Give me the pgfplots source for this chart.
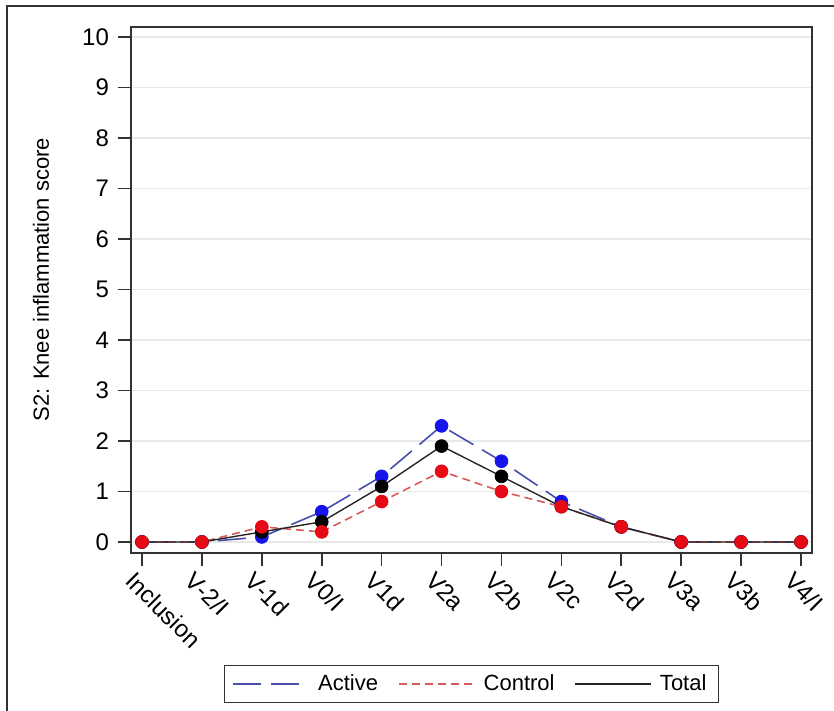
\documentclass[border=0pt]{standalone}
\usepackage{fontspec}
\setmainfont{Liberation Sans}
\usepackage{pgfplots}
\pgfplotsset{compat=1.18}
\definecolor{actline}{RGB}{70,80,170}
\definecolor{actmark}{RGB}{20,20,235}
\definecolor{conline}{RGB}{215,90,90}
\definecolor{conmark}{RGB}{230,10,20}
\definecolor{gridc}{RGB}{232,232,232}
\definecolor{axc}{RGB}{50,50,50}
\begin{document}
\begin{tikzpicture}
\useasboundingbox (-65.5pt,-79pt) rectangle (351.5pt,276.5pt);
\draw[line width=0.8pt, axc] (-62pt,-80pt) -- (-62pt,273.5pt) -- (352pt,273.5pt);
\begin{axis}[
  at={(0,0)}, anchor=south west,
  scale only axis, width=340.5pt, height=263pt,
  xmin=-0.184, xmax=11.184, ymin=-0.218, ymax=10.2,
  xtick={0,...,11},
  xticklabels={Inclusion,V-2/I,V-1d,V0/I,V1d,V2a,V2b,V2c,V2d,V3a,V3b,V4/I},
  ytick={0,...,10},
  xtick pos=bottom, ytick pos=left,
  tick align=outside, major tick length=6.5pt,
  ymajorgrids, grid style={gridc, line width=0.6pt},
  axis line style={line width=0.8pt, axc},
  tick style={line width=0.8pt, axc},
  /pgf/number format/assume math mode=true,
  yticklabel style={font=\fontsize{12}{14}\selectfont, xshift=-1pt},
  xticklabel style={font=\fontsize{12}{14}\selectfont, rotate=-45, anchor=north west, xshift=-4pt},
  ylabel={S2: Knee inflammation score},
  ylabel style={at={(axis description cs:-0.132,0.52)}, anchor=center, font=\fontsize{11}{13}\selectfont},
  legend style={at={(0.5,-0.249)}, anchor=center, legend columns=3, draw=axc, line width=0.8pt,
    font=\fontsize{11}{13}\selectfont, inner xsep=4pt, inner ysep=2.5pt,
    /tikz/every even column/.append style={column sep=8pt},
    /tikz/every odd column/.append style={column sep=2pt}},
  legend image code/.code={\draw[#1] (0pt,0pt) -- (38pt,0pt);},
]
% lines (legend order)
\addplot[actline, line width=0.8pt, dash pattern=on 14pt off 5pt] coordinates {
  (0,0) (1,0) (2,0.1) (3,0.6) (4,1.3) (5,2.3) (6,1.6) (7,0.8) (8,0.3) (9,0) (10,0) (11,0)};
\addlegendentry{Active}
\addplot[conline, line width=0.8pt, dash pattern=on 4pt off 2.5pt] coordinates {
  (0,0) (1,0) (2,0.3) (3,0.2) (4,0.8) (5,1.4) (6,1.0) (7,0.7) (8,0.3) (9,0) (10,0) (11,0)};
\addlegendentry{Control}
\addplot[black!85, line width=0.7pt] coordinates {
  (0,0) (1,0) (2,0.2) (3,0.4) (4,1.1) (5,1.9) (6,1.3) (7,0.7) (8,0.3) (9,0) (10,0) (11,0)};
\addlegendentry{Total}
% markers
\addplot[only marks, mark=*, mark size=3.2pt, mark options={fill=actmark, draw=actmark}, forget plot] coordinates {
  (0,0) (1,0) (2,0.1) (3,0.6) (4,1.3) (5,2.3) (6,1.6) (7,0.8) (8,0.3) (9,0) (10,0) (11,0)};
\addplot[only marks, mark=*, mark size=3.2pt, mark options={fill=black, draw=black}, forget plot] coordinates {
  (0,0) (1,0) (2,0.2) (3,0.4) (4,1.1) (5,1.9) (6,1.3) (7,0.7) (8,0.3) (9,0) (10,0) (11,0)};
\addplot[only marks, mark=*, mark size=3.2pt, mark options={fill=conmark, draw=conmark}, forget plot] coordinates {
  (0,0) (1,0) (2,0.3) (3,0.2) (4,0.8) (5,1.4) (6,1.0) (7,0.7) (8,0.3) (9,0) (10,0) (11,0)};
\end{axis}
\end{tikzpicture}
\end{document}
